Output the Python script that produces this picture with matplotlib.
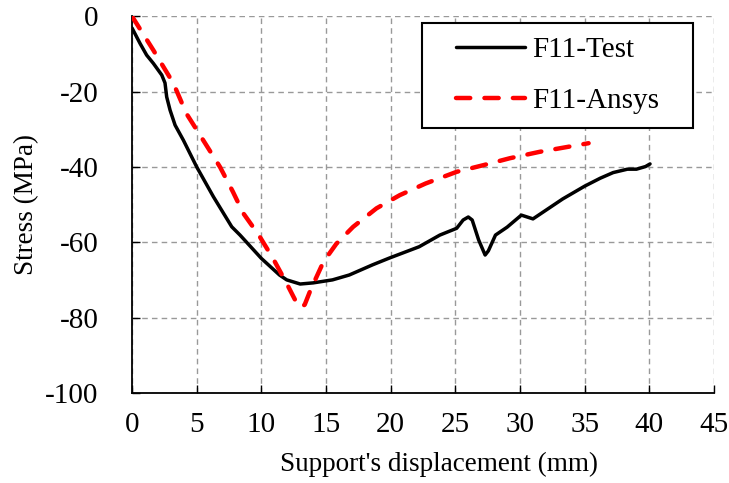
import matplotlib
matplotlib.use("Agg")
import matplotlib.pyplot as plt
from matplotlib.patches import Rectangle

plt.rcParams['font.family'] = ['Liberation Serif', 'DejaVu Serif']

# F11-Test (measured)
test_x = [0, 0.62, 1.13, 1.65, 2.3, 2.55, 2.68, 2.94, 3.33, 3.97, 5.0, 6.29,
          7.71, 8.35, 10.0, 11.4, 11.96, 13.0, 14.0, 15.5, 16.8, 18.6, 19.9,
          22.2, 23.8, 25.1, 25.6, 26.0, 26.3, 26.8, 27.3, 27.55, 28.1, 29.0,
          30.1, 31.0, 33.3, 35.0, 36.2, 37.2, 38.3, 39.0, 39.7, 40.05]
test_y = [-3.1, -7.2, -10.3, -12.5, -15.6, -17.7, -21.4, -24.9, -28.9, -32.9,
          -40.0, -47.9, -55.9, -58.1, -64.3, -68.7, -70.0, -71.1, -70.8, -70.0,
          -68.7, -66.0, -64.2, -61.2, -58.1, -56.3, -54.1, -53.3, -54.1, -59.4,
          -63.4, -62.3, -58.1, -56.0, -52.8, -53.8, -48.5, -45.1, -43.0, -41.5,
          -40.6, -40.6, -39.9, -39.2]

# F11-Ansys (simulation)
ansys_x = [0, 1.65, 3.2, 4.2, 5.65, 6.8, 7.8, 8.6, 9.8, 10.9, 11.95, 12.5,
           12.8, 13.05, 13.35, 13.8, 14.8, 15.8, 17.1, 18.9, 20.7, 22.7, 25.1,
           27.2, 29.2, 31.5, 35.3]
ansys_y = [0, -9.0, -17.8, -25.8, -33.7, -40.0, -46.6, -52.3, -58.1, -64.3,
           -70.9, -74.6, -76.6, -77.3, -76.6, -72.7, -65.2, -60.4, -55.9, -51.0,
           -47.5, -44.4, -41.3, -39.5, -37.7, -36.0, -33.7]

fig = plt.figure(figsize=(7.29, 4.83), dpi=100)
ax = fig.add_axes([0.1811, 0.1867, 0.7984, 0.7795])

ax.plot(test_x, test_y, color='black', lw=2.5, solid_joinstyle='round',
        solid_capstyle='round', label='F11-Test', zorder=3)
ax.plot(ansys_x, ansys_y, color='red', lw=3.2, ls=(0, (3.2, 3.2)),
        dash_capstyle='round', dash_joinstyle='round', label='F11-Ansys',
        zorder=3)

ax.set_xlim(0, 45)
ax.set_ylim(-100, 0)
ax.set_xticks(range(0, 46, 5))
ax.set_yticks(range(-100, 1, 20))
ax.set_yticklabels([str(v) for v in range(-100, 1, 20)])

ax.grid(True, color='#999999', ls=(0, (4, 3)), lw=1.0)
ax.set_axisbelow(True)
for s in ['top', 'right']:
    ax.spines[s].set_visible(False)
for s in ['left', 'bottom']:
    ax.spines[s].set_linewidth(1.3)

ax.tick_params(axis='both', direction='in', length=6, width=1.0, labelsize=21)
ax.tick_params(axis='y', pad=24)
ax.tick_params(axis='x', pad=14)

ax.set_xlabel("Support's displacement (mm)", fontsize=19.5)
ax.xaxis.set_label_coords(0.528, -0.158)
ax.set_ylabel("Stress (MPa)", fontsize=19.5)
ax.yaxis.set_label_coords(-0.16, 0.5)

# legend box
box = Rectangle((0.498, 0.703), 0.466, 0.279, transform=ax.transAxes,
                facecolor='white', edgecolor='black', lw=1.5, zorder=4)
ax.add_patch(box)
leg = ax.legend(loc='center', bbox_to_anchor=(0.731, 0.8425),
                fontsize=21, frameon=False, handlelength=2.35,
                handletextpad=0.25, labelspacing=0.85, borderpad=0)
leg.set_zorder(5)

fig.savefig('out.png', dpi=100)
